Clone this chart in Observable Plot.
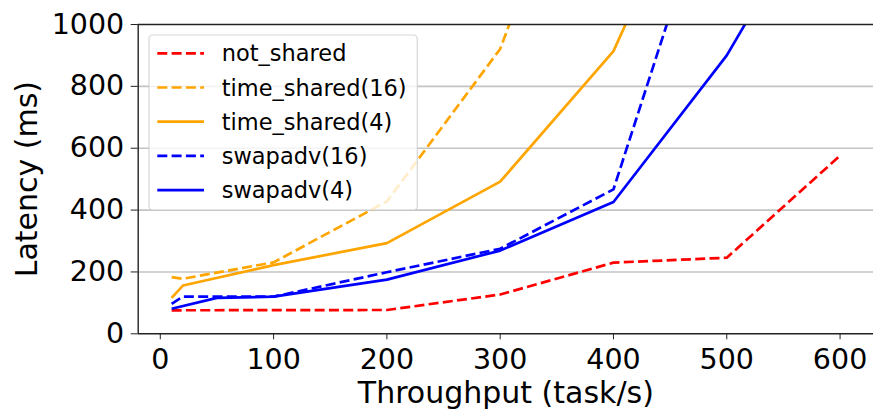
<!DOCTYPE html>
<html>
<head>
<meta charset="utf-8">
<script src="https://cdn.jsdelivr.net/npm/d3@7"></script>
<script src="https://cdn.jsdelivr.net/npm/@observablehq/plot@0.6"></script>
<style>
  html, body { margin: 0; padding: 0; background: #fff; }
  #chart { width: 873px; height: 410px; }
</style>
</head>
<body>
<div id="chart"></div>
<script>
// ---- data ----
const seriesNames = ["not_shared", "time_shared(16)", "time_shared(4)", "swapadv(16)", "swapadv(4)"];
const seriesColors = ["#ff0000", "#ffa500", "#ffa500", "#0000ff", "#0000ff"];
const seriesDashed = [true, true, false, true, false];

const notSharedX = [10, 200, 300, 400, 500, 600];
const notSharedY = [76, 77, 127, 230, 246, 576];

const timeShared16X = [10, 20, 100, 200, 300, 400];
const timeShared16Y = [183, 178, 231, 428, 921, 1900];

const timeShared4X = [10, 20, 100, 200, 300, 400, 500];
const timeShared4Y = [116, 156, 222, 293, 492, 914, 1724];

const swapadv16X = [10, 20, 100, 200, 300, 400, 500];
const swapadv16Y = [97, 120, 120, 199, 275, 467, 1600];

const swapadv4X = [10, 50, 100, 200, 300, 400, 500, 600];
const swapadv4Y = [81, 116, 120, 175, 269, 426, 900, 1525];

const xTicks = [0, 100, 200, 300, 400, 500, 600];
const yTicks = [0, 200, 400, 600, 800, 1000];
const yGrid = [200, 400, 600, 800];
const xDomain = [-19.5, 629.5];
const yDomain = [0, 1000];
const xLabel = "Throughput (task/s)";
const yLabel = "Latency (ms)";

// ---- build table ----
const seriesXs = [notSharedX, timeShared16X, timeShared4X, swapadv16X, swapadv4X];
const seriesYs = [notSharedY, timeShared16Y, timeShared4Y, swapadv16Y, swapadv4Y];
const tables = seriesNames.map((name, i) =>
  seriesXs[i].map((x, j) => ({series: name, x, y: seriesYs[i][j]})));

const FONT = "'DejaVu Sans', sans-serif";
const LW = 2.7;
const DASH = "10,4.3";

const marks = [
  Plot.gridY(yGrid, {stroke: "#c4c4c4", strokeOpacity: 1, strokeWidth: 1.6}),
  ...tables.map((t, i) => Plot.line(t, {
    x: "x", y: "y", stroke: seriesColors[i], strokeWidth: LW,
    strokeDasharray: seriesDashed[i] ? DASH : null,
    strokeLinejoin: "round", strokeLinecap: "butt", clip: true
  })),
  Plot.ruleY([yDomain[0]], {stroke: "#222", strokeWidth: 1.4}),
  Plot.ruleY([yDomain[1]], {stroke: "#222", strokeWidth: 1.4}),
  Plot.ruleX([xDomain[0]], {stroke: "#222", strokeWidth: 1.4}),
  Plot.axisX({ticks: xTicks, tickSize: 6, tickPadding: 8.5, fontSize: 28.5, label: null, tickFormat: d => String(d), stroke: "#222"}),
  Plot.axisY({ticks: yTicks, tickSize: 7, tickPadding: 7, fontSize: 28.5, label: null, tickFormat: d => String(d), stroke: "#222"}),
  Plot.text([xLabel], {frameAnchor: "bottom", textAnchor: "middle", lineAnchor: "middle", dy: 59.8, fontSize: 30, fill: "#000", text: d => d}),
  Plot.text([yLabel], {frameAnchor: "left", textAnchor: "middle", lineAnchor: "middle", rotate: -90, dx: -111.3, fontSize: 30, fill: "#000", text: d => d})
];

const svg = Plot.plot({
  width: 873,
  height: 410,
  marginLeft: 137.7,
  marginRight: 0,
  marginTop: 24,
  marginBottom: 76.7,
  x: {domain: xDomain},
  y: {domain: yDomain},
  style: {fontFamily: FONT, background: "#fff", color: "#000", overflow: "visible"},
  marks
});

// ---- legend (matplotlib-style, semi-transparent box on top of lines) ----
const g = d3.select(svg).append("g").attr("font-family", FONT).attr("text-anchor", "start");
const lx = 149, ly = 35, lw = 268.3, lh = 175;
g.append("rect").attr("x", lx).attr("y", ly).attr("width", lw).attr("height", lh)
  .attr("rx", 4).attr("fill", "#fff").attr("fill-opacity", 0.8)
  .attr("stroke", "#cccccc").attr("stroke-opacity", 0.8).attr("stroke-width", 1.2);
const rowY0 = 53.3, rowStep = 34.2;
seriesNames.forEach((name, i) => {
  const cy = rowY0 + i * rowStep;
  g.append("line").attr("x1", 157.3).attr("x2", 204).attr("y1", cy).attr("y2", cy)
    .attr("stroke", seriesColors[i]).attr("stroke-width", LW)
    .attr("stroke-dasharray", seriesDashed[i] ? DASH : null);
  g.append("text").attr("x", 221.7).attr("y", cy).attr("dy", "0.36em")
    .attr("text-anchor", "start")
    .attr("font-size", 22.5).attr("fill", "#000").text(name);
});

document.getElementById("chart").appendChild(svg);
</script>
</body>
</html>
